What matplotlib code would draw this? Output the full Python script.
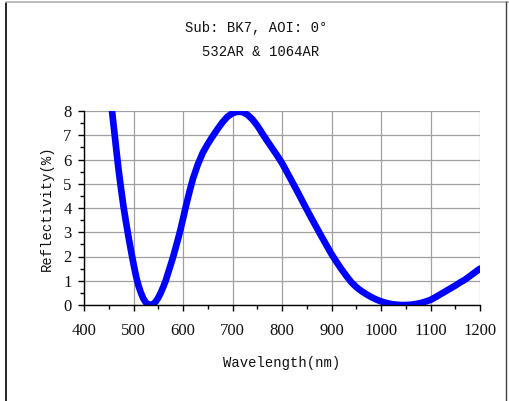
import matplotlib
matplotlib.use("Agg")
import matplotlib.pyplot as plt
from matplotlib.lines import Line2D
from matplotlib.ticker import MultipleLocator

# reflectivity curve (nm, %)
wavelength = [450, 455, 460, 465, 470, 475, 480, 485, 490, 495, 500, 505, 510, 515,
              520, 525, 530, 535, 540, 545, 550, 555, 560, 565, 570, 575, 580, 585,
              590, 595, 600, 605, 610, 615, 620, 630, 640, 650, 660, 670, 680,
              690, 700, 710, 720, 730, 740, 750, 760, 770, 780, 790, 800, 810, 820,
              830, 840, 850, 860, 870, 880, 890, 900, 910, 920, 930, 940, 950, 960,
              970, 980, 990, 1000, 1010, 1020, 1030, 1040, 1050, 1060, 1070, 1080,
              1090, 1100, 1110, 1120, 1130, 1140, 1150, 1160, 1170, 1180, 1190, 1200]
reflectivity = [9.2, 8.3, 7.37, 6.45, 5.55, 4.77, 4.03, 3.4, 2.8, 2.23, 1.7, 1.2, 0.8, 0.5,
                0.26, 0.1, 0.02, 0.0, 0.04, 0.14, 0.3, 0.5, 0.74, 1.0, 1.33, 1.65, 1.98, 2.35,
                2.72, 3.12, 3.55, 4.0, 4.42, 4.82, 5.2, 5.8, 6.28, 6.64, 6.96, 7.26, 7.54,
                7.77, 7.91, 7.97, 7.96, 7.85, 7.66, 7.4, 7.08, 6.77, 6.47, 6.17, 5.85, 5.48, 5.1,
                4.72, 4.33, 3.94, 3.56, 3.19, 2.82, 2.46, 2.1, 1.78, 1.48, 1.2, 0.94, 0.74, 0.58,
                0.45, 0.33, 0.23, 0.15, 0.09, 0.04, 0.015, 0.0, 0.0, 0.01, 0.04, 0.08,
                0.14, 0.21, 0.32, 0.44, 0.56, 0.68, 0.8, 0.93, 1.05, 1.2, 1.35, 1.5]

title_lines = ["Sub: BK7, AOI: 0°", "532AR & 1064AR"]
x_label = "Wavelength(nm)"
y_label = "Reflectivity(%)"

mono = "Liberation Mono"
serif = "Liberation Serif"
ink = "#111111"

fig = plt.figure(figsize=(5.09, 4.01), dpi=100)
ax = fig.add_axes([84 / 509, 1 - 305 / 401, 396 / 509, 194 / 401])

ax.plot(wavelength, reflectivity, color="#0000ff", linewidth=4.8,
        solid_capstyle="round", solid_joinstyle="round")

ax.set_xlim(400, 1200)
ax.set_ylim(0, 8)
ax.xaxis.set_major_locator(MultipleLocator(100))
ax.xaxis.set_minor_locator(MultipleLocator(50))
ax.yaxis.set_major_locator(MultipleLocator(1))
ax.yaxis.set_minor_locator(MultipleLocator(0.5))
ax.grid(True, which="major", color="#a0a0a0", linewidth=0.9)
ax.set_axisbelow(True)

for s in ["top", "right"]:
    ax.spines[s].set_visible(False)
for s in ["left", "bottom"]:
    ax.spines[s].set_color("black")
    ax.spines[s].set_linewidth(1.0)

ax.tick_params(which="major", direction="out", length=4, width=1, color="black",
               labelsize=12, pad=9)
ax.tick_params(axis="y", which="major", pad=5)
ax.tick_params(which="minor", direction="out", length=3, width=1, color="black")
for lab in ax.get_xticklabels() + ax.get_yticklabels():
    lab.set_fontfamily(serif)
    lab.set_color(ink)

ax.set_xlabel(x_label, fontfamily=mono, fontsize=10, color=ink, labelpad=12)
ax.set_ylabel(y_label, fontfamily=mono, fontsize=10, color=ink, labelpad=7)

fig.text(256 / 509, 1 - 28 / 401, title_lines[0], ha="center", va="center",
         fontfamily=mono, fontsize=10, color=ink)
fig.text(261 / 509, 1 - 52 / 401, title_lines[1], ha="center", va="center",
         fontfamily=mono, fontsize=10, color=ink)

# outer frame
fig.add_artist(Line2D([6 / 509, 6 / 509], [0, 1 - 3 / 401], transform=fig.transFigure,
                      color="black", linewidth=1.2))
fig.add_artist(Line2D([6 / 509, 1], [1 - 2 / 401, 1 - 2 / 401], transform=fig.transFigure,
                      color="#b0b0b0", linewidth=1.2))
fig.add_artist(Line2D([505.5 / 509, 505.5 / 509], [0, 1 - 2 / 401], transform=fig.transFigure,
                      color="#404040", linewidth=1.0))

fig.savefig("out.png", dpi=100)
